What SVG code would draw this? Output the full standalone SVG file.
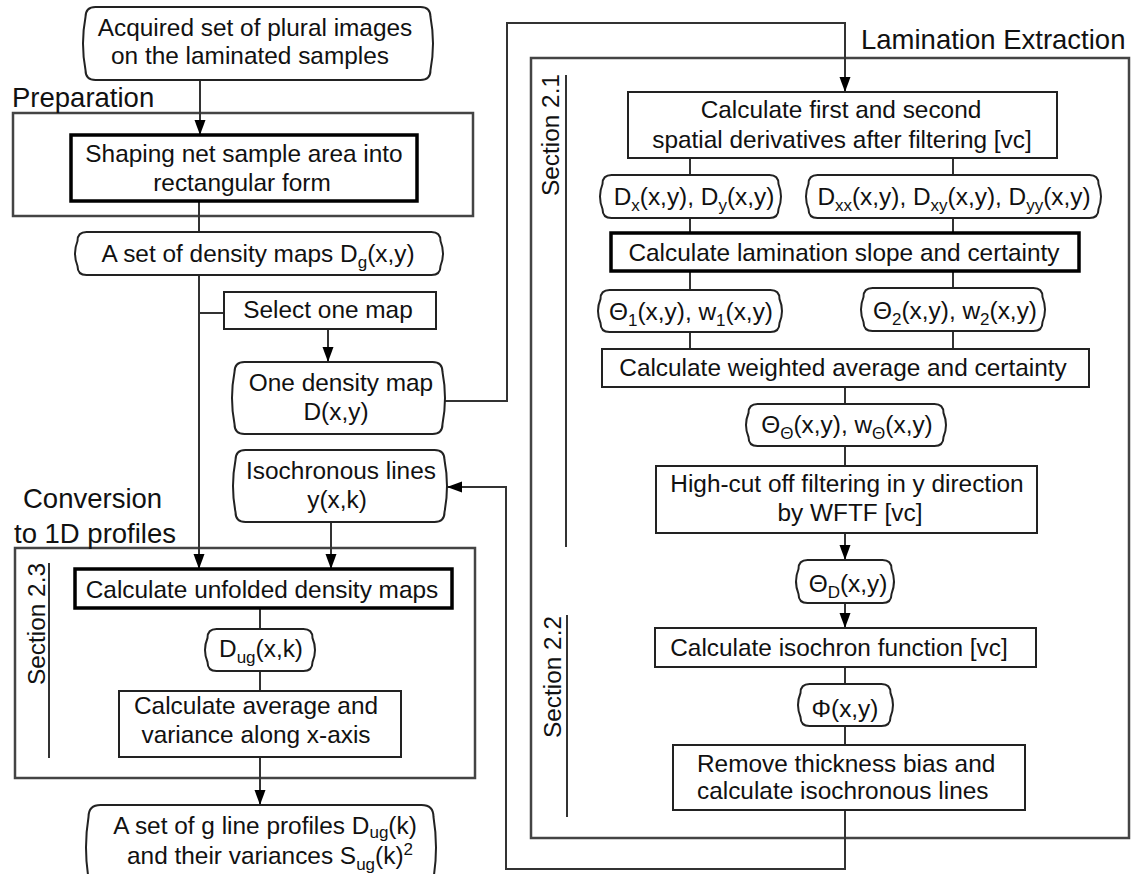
<svg xmlns="http://www.w3.org/2000/svg" width="1141" height="874" viewBox="0 0 1141 874">
<style>
.t{font-family:"Liberation Sans",Arial,sans-serif;font-size:24.4px;fill:#111}
.h{font-size:27.5px}
.s{font-size:17px}
.m{text-anchor:middle}
.box{fill:#fff;stroke:#222;stroke-width:2}
.thick{fill:#fff;stroke:#000;stroke-width:3.5}
.cont{fill:none;stroke:#444;stroke-width:2.5}
.cap{fill:#fff;stroke:#222;stroke-width:2}
.ln{fill:none;stroke:#333;stroke-width:2}
</style>
<defs>
<marker id="arr" markerUnits="userSpaceOnUse" markerWidth="15" markerHeight="12" refX="15" refY="5.5" orient="auto">
<path d="M0,0 L15,5.5 L0,11 Z" fill="#000"/>
</marker>
</defs>
<rect width="1141" height="874" fill="#fff"/>

<g id="containers">
<g id="preparation">
<rect class="cont" x="13" y="113" width="460" height="103"/>
<text class="t h" x="12" y="107">Preparation</text>
</g>
<g id="conversion">
<rect class="cont" x="15" y="548" width="460" height="230"/>
<text class="t h" x="23" y="508">Conversion</text>
<text class="t h" x="14" y="543">to 1D profiles</text>
<line class="ln" x1="49" y1="563" x2="49" y2="758"/>
<text class="t m" transform="translate(45,624) rotate(-90)">Section 2.3</text>
</g>
<g id="lamination">
<rect class="cont" x="531" y="58" width="598" height="780"/>
<text class="t h" x="861" y="49">Lamination Extraction</text>
<line class="ln" x1="566" y1="75" x2="566" y2="547"/>
<text class="t m" transform="translate(559,135) rotate(-90)">Section 2.1</text>
<line class="ln" x1="567" y1="615" x2="567" y2="817"/>
<text class="t m" transform="translate(561,677) rotate(-90)">Section 2.2</text>
</g>
</g>

<g id="connectors">
<path class="ln" d="M200,80 V135" marker-end="url(#arr)"/>
<path class="ln" d="M199,201 V232"/>
<path class="ln" d="M199,275 V569" marker-end="url(#arr)"/>
<path class="ln" d="M199,313 H224"/>
<path class="ln" d="M328,329 V362" marker-end="url(#arr)"/>
<path class="ln" d="M445,401 H507 V23 H845 V92" marker-end="url(#arr)"/>
<path class="ln" d="M331,522 V569" marker-end="url(#arr)"/>
<path class="ln" d="M260,608 V629 M260,671 V691"/>
<path class="ln" d="M260,757 V805" marker-end="url(#arr)"/>
<path class="ln" d="M690,158 V175 M953,158 V175 M690,218 V233 M953,218 V233"/>
<path class="ln" d="M690,271 V290 M953,271 V288 M690,332 V349 M953,331 V349"/>
<path class="ln" d="M845,387 V404 M845,446 V466"/>
<path class="ln" d="M845,533 V560" marker-end="url(#arr)"/>
<path class="ln" d="M845,603 V628" marker-end="url(#arr)"/>
<path class="ln" d="M845,667 V684 M845,726 V745"/>
<path class="ln" d="M845,810 V869 H506 V487 H447" marker-end="url(#arr)"/>
</g>

<g id="n_acquired">
<path class="cap" d="M95.5,7 H420.5 Q430.5,7 430.5,17 Q435.5,43.5 430.5,70 Q430.5,80 420.5,80 H95.5 Q85.5,80 85.5,70 Q80.5,43.5 85.5,17 Q85.5,7 95.5,7 Z"/>
<text class="t m" x="255" y="36">Acquired set of plural images</text>
<text class="t m" x="250" y="64">on the laminated samples</text>
</g>
<g id="n_shaping">
<rect class="thick" x="71" y="135" width="346" height="66"/>
<text class="t m" x="244" y="162">Shaping net sample area into</text>
<text class="t m" x="242" y="191">rectangular form</text>
</g>
<g id="n_dg">
<path class="cap" d="M86.5,232 H431.5 Q440.5,232 440.5,241 Q445.5,253.5 440.5,266 Q440.5,275 431.5,275 H86.5 Q77.5,275 77.5,266 Q72.5,253.5 77.5,241 Q77.5,232 86.5,232 Z"/>
<text class="t m" x="258" y="262">A set of density maps D<tspan class="s" dy="6">g</tspan><tspan dy="-6">(x,y)</tspan></text>
</g>
<g id="n_select">
<rect class="box" x="224" y="292" width="212" height="37"/>
<text class="t m" x="328" y="318">Select one map</text>
</g>
<g id="n_onemap">
<path class="cap" d="M244.5,362 H432.5 Q442.5,362 442.5,372 Q447.5,398 442.5,424 Q442.5,434 432.5,434 H244.5 Q234.5,434 234.5,424 Q229.5,398 234.5,372 Q234.5,362 244.5,362 Z"/>
<text class="t m" x="341" y="391">One density map</text>
<text class="t m" x="336" y="420">D(x,y)</text>
</g>
<g id="n_iso">
<path class="cap" d="M245.5,450 H434.5 Q444.5,450 444.5,460 Q449.5,486 444.5,512 Q444.5,522 434.5,522 H245.5 Q235.5,522 235.5,512 Q230.5,486 235.5,460 Q235.5,450 245.5,450 Z"/>
<text class="t m" x="341" y="479">Isochronous lines</text>
<text class="t m" x="337" y="508">y(x,k)</text>
</g>
<g id="n_unfold">
<rect class="thick" x="75" y="569" width="377" height="39"/>
<text class="t m" x="262" y="598">Calculate unfolded density maps</text>
</g>
<g id="n_dugxk">
<path class="cap" d="M216.5,629 H303.5 Q312.5,629 312.5,638 Q317.5,650 312.5,662 Q312.5,671 303.5,671 H216.5 Q207.5,671 207.5,662 Q202.5,650 207.5,638 Q207.5,629 216.5,629 Z"/>
<text class="t m" x="261" y="657">D<tspan class="s" dy="6">ug</tspan><tspan dy="-6">(x,k)</tspan></text>
</g>
<g id="n_avg">
<rect class="box" x="119" y="691" width="282" height="66"/>
<text class="t m" x="256" y="714">Calculate average and</text>
<text class="t m" x="256" y="743">variance along x-axis</text>
</g>
<g id="n_profiles">
<path class="cap" d="M100.5,805 H421.5 Q433.5,805 433.5,817 Q438.5,847.5 433.5,878 Q433.5,890 421.5,890 H100.5 Q88.5,890 88.5,878 Q83.5,847.5 88.5,817 Q88.5,805 100.5,805 Z"/>
<text class="t m" x="265" y="834">A set of g line profiles D<tspan class="s" dy="4">ug</tspan><tspan dy="-4">(k)</tspan></text>
<text class="t m" x="270" y="864">and their variances S<tspan class="s" dy="6">ug</tspan><tspan dy="-6">(k)</tspan><tspan class="s" dy="-9">2</tspan></text>
</g>

<g id="n_deriv">
<rect class="box" x="628" y="92" width="429" height="66"/>
<text class="t m" x="841" y="118">Calculate first and second</text>
<text class="t m" x="842" y="148">spatial derivatives after filtering [vc]</text>
</g>
<g id="n_dxdy">
<path class="cap" d="M611.5,175 H769.5 Q778.5,175 778.5,184 Q783.5,196.5 778.5,209 Q778.5,218 769.5,218 H611.5 Q602.5,218 602.5,209 Q597.5,196.5 602.5,184 Q602.5,175 611.5,175 Z"/>
<text class="t m" x="694" y="205">D<tspan class="s" dy="6">x</tspan><tspan dy="-6">(x,y), D</tspan><tspan class="s" dy="6">y</tspan><tspan dy="-6">(x,y)</tspan></text>
</g>
<g id="n_dxx">
<path class="cap" d="M817.5,175 H1089.5 Q1098.5,175 1098.5,184 Q1103.5,196.5 1098.5,209 Q1098.5,218 1089.5,218 H817.5 Q808.5,218 808.5,209 Q803.5,196.5 808.5,184 Q808.5,175 817.5,175 Z"/>
<text class="t m" x="954" y="205">D<tspan class="s" dy="6">xx</tspan><tspan dy="-6">(x,y), D</tspan><tspan class="s" dy="6">xy</tspan><tspan dy="-6">(x,y), D</tspan><tspan class="s" dy="6">yy</tspan><tspan dy="-6">(x,y)</tspan></text>
</g>
<g id="n_slope">
<rect class="thick" x="611" y="233" width="468" height="38"/>
<text class="t m" x="844" y="261">Calculate lamination slope and certainty</text>
</g>
<g id="n_th1">
<path class="cap" d="M609.5,290 H770.5 Q779.5,290 779.5,299 Q784.5,311 779.5,323 Q779.5,332 770.5,332 H609.5 Q600.5,332 600.5,323 Q595.5,311 600.5,299 Q600.5,290 609.5,290 Z"/>
<text class="t m" x="691" y="320">Θ<tspan class="s" dy="6">1</tspan><tspan dy="-6">(x,y), w</tspan><tspan class="s" dy="6">1</tspan><tspan dy="-6">(x,y)</tspan></text>
</g>
<g id="n_th2">
<path class="cap" d="M872.5,288 H1033.5 Q1042.5,288 1042.5,297 Q1047.5,309.5 1042.5,322 Q1042.5,331 1033.5,331 H872.5 Q863.5,331 863.5,322 Q858.5,309.5 863.5,297 Q863.5,288 872.5,288 Z"/>
<text class="t m" x="955" y="319">Θ<tspan class="s" dy="6">2</tspan><tspan dy="-6">(x,y), w</tspan><tspan class="s" dy="6">2</tspan><tspan dy="-6">(x,y)</tspan></text>
</g>
<g id="n_wavg">
<rect class="box" x="602" y="349" width="487" height="38"/>
<text class="t m" x="843" y="376">Calculate weighted average and certainty</text>
</g>
<g id="n_thth">
<path class="cap" d="M757.5,404 H934.5 Q943.5,404 943.5,413 Q948.5,425 943.5,437 Q943.5,446 934.5,446 H757.5 Q748.5,446 748.5,437 Q743.5,425 748.5,413 Q748.5,404 757.5,404 Z"/>
<text class="t m" x="847" y="433">Θ<tspan class="s" dy="6">Θ</tspan><tspan dy="-6">(x,y), w</tspan><tspan class="s" dy="6">Θ</tspan><tspan dy="-6">(x,y)</tspan></text>
</g>
<g id="n_highcut">
<rect class="box" x="656" y="466" width="381" height="67"/>
<text class="t m" x="847" y="492">High-cut off filtering in y direction</text>
<text class="t m" x="850" y="521">by WFTF [vc]</text>
</g>
<g id="n_thd">
<path class="cap" d="M807.5,560 H882.5 Q891.5,560 891.5,569 Q896.5,581.5 891.5,594 Q891.5,603 882.5,603 H807.5 Q798.5,603 798.5,594 Q793.5,581.5 798.5,569 Q798.5,560 807.5,560 Z"/>
<text class="t m" x="848" y="592">Θ<tspan class="s" dy="6">D</tspan><tspan dy="-6">(x,y)</tspan></text>
</g>
<g id="n_isofunc">
<rect class="box" x="655" y="628" width="381" height="39"/>
<text class="t m" x="839" y="656">Calculate isochron function [vc]</text>
</g>
<g id="n_phi">
<path class="cap" d="M809.5,684 H881.5 Q890.5,684 890.5,693 Q895.5,705 890.5,717 Q890.5,726 881.5,726 H809.5 Q800.5,726 800.5,717 Q795.5,705 800.5,693 Q800.5,684 809.5,684 Z"/>
<text class="t m" x="845" y="717">Φ(x,y)</text>
</g>
<g id="n_remove">
<rect class="box" x="673" y="745" width="352" height="65"/>
<text class="t" x="697" y="772">Remove thickness bias and</text>
<text class="t" x="697" y="799">calculate isochronous lines</text>
</g>
</svg>
